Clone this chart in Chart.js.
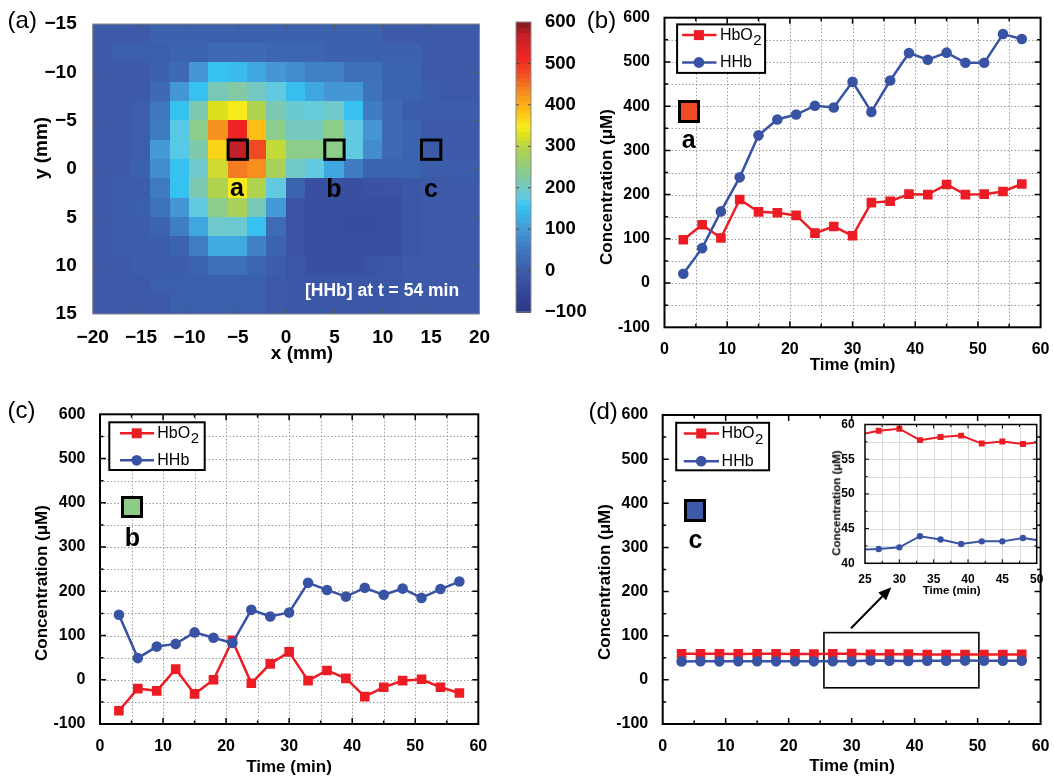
<!DOCTYPE html>
<html><head><meta charset="utf-8">
<script src="https://cdn.jsdelivr.net/npm/chart.js@4.4.0/dist/chart.umd.min.js"></script>
<style>
html,body{margin:0;padding:0;background:#fff;}
body{width:1054px;height:778px;position:relative;overflow:hidden;font-family:Arial,"Liberation Sans",Helvetica,sans-serif;}
canvas{position:absolute;}
.t{position:absolute;line-height:1;white-space:nowrap;color:#000;}
.c{transform:translateX(-50%);}
.r{transform:translate(-50%,-50%) rotate(-90deg);}
.b{font-weight:bold;}
.sq{position:absolute;box-sizing:border-box;border:3px solid #000;}
</style></head><body>
<canvas id="cA" width="540" height="360" style="left:0;top:0"></canvas>
<canvas id="cBar" width="100" height="360" style="left:500px;top:0"></canvas>
<canvas id="cB" width="514" height="390" style="left:540px;top:0"></canvas>
<canvas id="cC" width="540" height="388" style="left:0;top:390px"></canvas>
<canvas id="cD" width="514" height="388" style="left:540px;top:390px"></canvas>
<canvas id="cIn" width="230" height="190" style="left:820px;top:415px"></canvas>

<div class="t" style="left:7.6px;top:8.1px;font-size:24px">(a)</div>
<div class="t" style="left:586.8px;top:8.4px;font-size:24px">(b)</div>
<div class="t" style="left:7.6px;top:397.6px;font-size:24px">(c)</div>
<div class="t" style="left:588.5px;top:399.3px;font-size:24px">(d)</div>

<div class="t b c" style="left:237px;top:175.4px;font-size:25px">a</div>
<div class="t b c" style="left:334px;top:176px;font-size:25px">b</div>
<div class="t b c" style="left:431px;top:176px;font-size:25px">c</div>
<div class="t b" style="left:305px;top:281.7px;font-size:17.5px;color:#fff">[HHb] at t = 54 min</div>
<div class="t b c" style="left:302px;top:342.8px;font-size:19px">x (mm)</div>
<div class="t b r" style="left:40px;top:148.3px;font-size:19px">y (mm)</div>

<div class="sq" style="left:677.8px;top:100.3px;width:22.4px;height:22.4px;background:#ee4a24"></div>
<div class="t b c" style="left:688.8px;top:126.6px;font-size:25px">a</div>
<div class="sq" style="left:120.7px;top:496px;width:22.2px;height:22.2px;background:#8ccc88"></div>
<div class="t b c" style="left:132.5px;top:524.7px;font-size:25px">b</div>
<div class="sq" style="left:683.8px;top:499.4px;width:22.5px;height:22.2px;background:#3c5aa8"></div>
<div class="t b c" style="left:695.4px;top:527px;font-size:25px">c</div>

<div class="t b r" style="left:605.5px;top:186.7px;font-size:17px">Concentration (μM)</div>
<div class="t b r" style="left:41.2px;top:582.5px;font-size:17px">Concentration (μM)</div>
<div class="t b r" style="left:603.5px;top:582px;font-size:17px">Concentration (μM)</div>
<div class="t b c" style="left:852.5px;top:356px;font-size:17px">Time (min)</div>
<div class="t b c" style="left:289px;top:757.5px;font-size:17px">Time (min)</div>
<div class="t b c" style="left:852px;top:757px;font-size:17px">Time (min)</div>
<div class="t b c" style="left:951.7px;top:584.7px;font-size:11.5px">Time (min)</div>
<div class="t b r" style="left:836.7px;top:503px;font-size:11.5px">Concentration (μM)</div>

<script>
// ---------------- data ----------------
const times = [3,6,9,12,15,18,21,24,27,30,33,36,39,42,45,48,51,54,57];
const bHbO2 = [98,132,102,189,161,159,153,113,128,107,182,185,201,200,223,200,201,207,224];
const bHHb  = [21,79,162,239,334,370,381,401,397,455,387,458,520,505,521,498,498,563,552];
const cHbO2 = [-70,-20,-25,24,-32,0,89,-8,36,63,-2,21,3,-38,-17,-2,1,-17,-30];
const cHHb  = [147,49,75,81,107,95,83,158,143,152,219,203,188,208,192,206,185,205,222];
const dHbO2 = [59.0,58.9,59.1,58.8,59.0,58.9,58.8,58.5,59.1,59.4,57.75,58.2,58.4,57.25,57.55,57.2,57.5,57.5,57.6];
const dHHb  = [41.8,42.0,41.9,42.1,42.0,41.9,42.0,41.97,42.06,42.3,43.9,43.44,42.78,43.16,43.16,43.64,43.2,43.2,43.3];

const mapX = [-19,-17,-15,-13,-11,-9,-7,-5,-3,-1,1,3,5,7,9,11,13,15,17,19];
const mapY = [-14,-12,-10,-8,-6,-4,-2,0,2,4,6,8,10,12,14];
const mapHHb = [
 [0,0,0,12,12,12,12,12,12,12,12,12,12,12,12,0,0,0,0,0],
 [0,8,8,8,15,15,28,28,28,20,20,20,12,12,12,12,12,0,0,0],
 [0,0,0,12,28,100,155,148,120,100,85,68,68,42,42,15,15,0,0,0],
 [0,0,0,28,100,155,210,225,205,180,150,120,100,100,48,15,15,5,0,0],
 [0,0,8,55,155,215,330,350,295,215,190,185,195,155,62,28,5,5,5,5],
 [0,0,8,60,175,245,430,520,390,245,205,205,245,180,100,28,15,0,0,0],
 [0,0,8,105,175,220,370,575,480,310,245,245,245,180,85,28,15,0,0,0],
 [0,0,12,85,155,195,318,445,432,285,200,180,120,60,15,15,15,5,5,5],
 [0,5,5,60,155,215,295,350,295,180,15,-25,-25,-25,-20,-15,-5,0,0,0],
 [0,5,8,45,100,180,245,285,210,105,-15,-30,-30,-30,-30,-30,-10,0,0,0],
 [0,3,5,15,65,120,195,192,155,30,-15,-30,-30,-32,-32,-30,-10,0,0,0],
 [0,3,3,5,15,65,125,125,70,15,-15,-30,-30,-30,-30,-25,-10,0,0,0],
 [0,0,5,5,5,15,42,42,20,5,-10,-25,-25,-25,-15,-10,0,0,0,0],
 [0,0,0,8,8,8,8,8,8,0,-8,-10,-10,-10,-10,-8,0,0,0,0],
 [0,0,0,0,8,8,8,8,8,0,-5,-5,-5,-5,-5,-5,0,0,0,0]
];
const boxX = [-5,5,15];
const boxY = [-2,-2,-2];
const zoomBoxX = [25.6,50.2];
const zoomBoxY = [-18,107];
const arrowX = [29.9,36.3];
const arrowY = [117,210];

// ---------------- styles ----------------
const FF = 'Arial, "Liberation Sans", Helvetica, sans-serif';
const RED = '#ed1c24', BLUE = '#3953a4';
const cmapStops = [-100,-30,0,12,28,50,100,150,160,180,210,245,295,330,350,390,430,480,520,575,600];
const cmapCols = [[43,54,135],[56,78,158],[60,90,168],[60,98,173],[61,106,179],[61,116,187],[69,150,212],[56,189,239],[54,197,243],[98,202,224],[120,200,184],[140,205,138],[176,210,78],[221,224,30],[247,235,27],[253,189,22],[246,146,30],[239,74,36],[238,36,36],[192,32,38],[128,26,30]];
function jet(v){
  const s=cmapStops,c=cmapCols; let col=c[c.length-1];
  if (v<=s[0]) col=c[0];
  else for (let i=1;i<s.length;i++){ if (v<=s[i]){ const f=(v-s[i-1])/(s[i]-s[i-1]); col=c[i-1].map((a,k)=>a+(c[i][k]-a)*f); break; } }
  return 'rgb('+col.map(Math.round).join(',')+')';
}
Chart.defaults.font.family = FF;
Chart.defaults.color = '#000';
const minus = v => (v<0 ? '\u2212'+Math.abs(v) : ''+v);

// ---------------- plugins ----------------
const framePlugin = {
  id:'frame',
  beforeDatasetsDraw(chart,a,o){
    const ctx=chart.ctx, ca=chart.chartArea;
    if (o.bg){ ctx.save(); ctx.fillStyle=o.bg; ctx.fillRect(ca.left,ca.top,ca.right-ca.left,ca.bottom-ca.top); ctx.restore(); }
    if (!o.grid) return;
    ctx.save(); ctx.strokeStyle=o.gridColor; ctx.lineWidth=1; ctx.setLineDash(o.dash||[]);
    ['x','y'].forEach(id=>{
      const s=chart.scales[id]; if(!s) return;
      s.ticks.forEach(t=>{
        const p=Math.round(s.getPixelForValue(t.value))+0.5;
        ctx.beginPath();
        if (id==='x'){ if(p<ca.left+2||p>ca.right-2) return; ctx.moveTo(p,ca.top); ctx.lineTo(p,ca.bottom); }
        else { if(p<ca.top+2||p>ca.bottom-2) return; ctx.moveTo(ca.left,p); ctx.lineTo(ca.right,p); }
        ctx.stroke();
      });
    });
    ctx.restore();
  },
  afterDatasetsDraw(chart,a,o){
    const ctx=chart.ctx, ca=chart.chartArea;
    ctx.save(); ctx.setLineDash([]);
    ctx.strokeStyle=o.tickColor||o.color; ctx.lineWidth=o.tickWidth||1.5;
    (o.axes||['x','y']).forEach(id=>{
      const s=chart.scales[id]; if(!s) return;
      s.ticks.forEach(t=>{
        const len=(t.label!==''&&t.label!==undefined)?o.major:o.minor;
        if(!len) return;
        const p=s.getPixelForValue(t.value);
        ctx.beginPath();
        if (id==='x'){ if(p<ca.left+1||p>ca.right-1) return; ctx.moveTo(p,ca.bottom); ctx.lineTo(p,ca.bottom-len); ctx.moveTo(p,ca.top); ctx.lineTo(p,ca.top+len); }
        else { if(p<ca.top+1||p>ca.bottom-1) return; ctx.moveTo(ca.left,p); ctx.lineTo(ca.left+len,p); ctx.moveTo(ca.right,p); ctx.lineTo(ca.right-len,p); }
        ctx.stroke();
      });
    });
    ctx.strokeStyle=o.color; ctx.lineWidth=o.lw;
    ctx.strokeRect(ca.left,ca.top,ca.right-ca.left,ca.bottom-ca.top);
    ctx.restore();
  }
};

const legendPlugin = {
  id:'hbLegend',
  afterDraw(chart,a,o){
    const ctx=chart.ctx, ca=chart.chartArea;
    const x0=ca.left+o.dx, y0=ca.top+o.dy;
    ctx.save();
    ctx.fillStyle='#fff'; ctx.fillRect(x0,y0,o.w,o.h);
    ctx.lineWidth=2; ctx.strokeStyle='#000'; ctx.strokeRect(x0,y0,o.w,o.h);
    const rows=[{c:RED,s:'rect',t:'HbO',sub:'2'},{c:BLUE,s:'circle',t:'HHb'}];
    rows.forEach((r,i)=>{
      const yy=y0+o.rows[i];
      ctx.strokeStyle=r.c; ctx.lineWidth=2.5;
      ctx.beginPath(); ctx.moveTo(x0+o.l0,yy); ctx.lineTo(x0+o.l1,yy); ctx.stroke();
      ctx.fillStyle=r.c;
      if (r.s==='rect') ctx.fillRect(x0+o.m-5,yy-5,10,10);
      else { ctx.beginPath(); ctx.arc(x0+o.m,yy,5.4,0,Math.PI*2); ctx.fill(); }
      ctx.fillStyle='#000'; ctx.textAlign='left'; ctx.textBaseline='middle';
      ctx.font='16px '+FF; ctx.fillText(r.t,x0+o.tx,yy);
      if (r.sub){ const w=ctx.measureText(r.t).width; ctx.font='15px '+FF; ctx.fillText(r.sub,x0+o.tx+w+0.5,yy+6); }
    });
    ctx.restore();
  }
};

const heatPlugin = {
  id:'heat',
  beforeDatasetsDraw(chart){
    const ctx=chart.ctx, xs=chart.scales.x, ys=chart.scales.y, ca=chart.chartArea;
    ctx.save(); ctx.beginPath(); ctx.rect(ca.left,ca.top,ca.right-ca.left,ca.bottom-ca.top); ctx.clip();
    chart.data.datasets[0].data.forEach(c=>{
      const x0=xs.getPixelForValue(c.x-1), x1=xs.getPixelForValue(c.x+1);
      const y0=ys.getPixelForValue(c.y-1), y1=ys.getPixelForValue(c.y+1);
      ctx.fillStyle=jet(c.v);
      const L=Math.floor(Math.min(x0,x1)), T=Math.floor(Math.min(y0,y1));
      ctx.fillRect(L,T,Math.ceil(Math.max(x0,x1))-L+1,Math.ceil(Math.max(y0,y1))-T+1);
    });
    ctx.restore();
  },
  afterDatasetsDraw(chart){
    const ctx=chart.ctx, xs=chart.scales.x, ys=chart.scales.y;
    ctx.save(); ctx.strokeStyle='#000'; ctx.lineWidth=3;
    chart.data.datasets[1].data.forEach(b=>{
      const x0=xs.getPixelForValue(b.x-1), x1=xs.getPixelForValue(b.x+1);
      const y0=ys.getPixelForValue(b.y-1), y1=ys.getPixelForValue(b.y+1);
      ctx.strokeRect(Math.min(x0,x1),Math.min(y0,y1),Math.abs(x1-x0),Math.abs(y1-y0));
    });
    ctx.restore();
  }
};

const cbarPlugin = {
  id:'cbar',
  beforeDatasetsDraw(chart){
    const ctx=chart.ctx, ys=chart.scales.y, ca=chart.chartArea;
    const n=64, lo=ys.min, hi=ys.max, step=(hi-lo)/n;
    ctx.save();
    for (let k=0;k<n;k++){
      const v0=lo+k*step, v1=v0+step;
      const p0=ys.getPixelForValue(v0), p1=ys.getPixelForValue(v1);
      ctx.fillStyle=jet((v0+v1)/2);
      ctx.fillRect(ca.left,Math.floor(p1),ca.right-ca.left,Math.ceil(p0)-Math.floor(p1)+1);
    }
    ctx.restore();
  }
};

const zoomPlugin = {
  id:'zoomBox',
  beforeDatasetsDraw(chart){
    const ctx=chart.ctx, xs=chart.scales.x, ys=chart.scales.y;
    const x0=xs.getPixelForValue(zoomBoxX[0]), x1=xs.getPixelForValue(zoomBoxX[1]);
    const y0=ys.getPixelForValue(zoomBoxY[1]), y1=ys.getPixelForValue(zoomBoxY[0]);
    ctx.save(); ctx.strokeStyle='#000'; ctx.lineWidth=1.6; ctx.strokeRect(x0,y0,x1-x0,y1-y0); ctx.restore();
  },
  afterDatasetsDraw(chart){
    const ctx=chart.ctx, xs=chart.scales.x, ys=chart.scales.y;
    const ax0=xs.getPixelForValue(arrowX[0]), ay0=ys.getPixelForValue(arrowY[0]);
    const ax1=xs.getPixelForValue(arrowX[1]), ay1=ys.getPixelForValue(arrowY[1]);
    const ang=Math.atan2(ay1-ay0,ax1-ax0), hl=13, hw=5.5;
    const bx=ax1-hl*Math.cos(ang), by=ay1-hl*Math.sin(ang);
    ctx.save(); ctx.strokeStyle='#000'; ctx.fillStyle='#000'; ctx.lineWidth=2;
    ctx.beginPath(); ctx.moveTo(ax0,ay0); ctx.lineTo(bx,by); ctx.stroke();
    ctx.beginPath(); ctx.moveTo(ax1,ay1);
    ctx.lineTo(bx+hw*Math.sin(ang),by-hw*Math.cos(ang));
    ctx.lineTo(bx-hw*Math.sin(ang),by+hw*Math.cos(ang));
    ctx.closePath(); ctx.fill(); ctx.restore();
  }
};

// ---------------- heatmap ----------------
const cells=[]; mapY.forEach((y,j)=>mapX.forEach((x,i)=>cells.push({x:x,y:y,v:mapHHb[j][i]})));
const boxes=boxX.map((x,i)=>({x:x,y:boxY[i]}));
const heatTickFont={size:19,weight:'bold'};
new Chart(document.getElementById('cA'),{
  type:'scatter',
  data:{datasets:[{data:cells,pointRadius:0},{data:boxes,pointRadius:0}]},
  options:{responsive:false,animation:false,events:[],
    layout:{padding:{left:0,right:60.5,top:24,bottom:0}},
    plugins:{legend:{display:false},tooltip:{enabled:false},
      frame:{lw:1,color:'#8a8a8a',tickColor:'#555',tickWidth:1,major:5,minor:0,grid:false}},
    scales:{
      x:{type:'linear',min:-20,max:20,afterFit:s=>{s.height=46;},grid:{display:false},border:{display:false},
         ticks:{stepSize:5,autoSkip:false,maxRotation:0,padding:4,font:heatTickFont,callback:minus}},
      y:{type:'linear',min:-15,max:15,reverse:true,afterFit:s=>{s.width=92.7;},grid:{display:false},border:{display:false},
         ticks:{stepSize:5,autoSkip:false,padding:8,font:heatTickFont,callback:minus}}
    }},
  plugins:[heatPlugin,framePlugin]
});

// colour bar
new Chart(document.getElementById('cBar'),{
  type:'scatter',
  data:{datasets:[{data:[],pointRadius:0}]},
  options:{responsive:false,animation:false,events:[],
    layout:{padding:{left:16,right:0,top:22,bottom:48}},
    plugins:{legend:{display:false},tooltip:{enabled:false},
      frame:{lw:1,color:'#8a8a8a',tickColor:'#444',tickWidth:1,major:3,minor:0,grid:false,axes:['y']}},
    scales:{
      x:{type:'linear',min:0,max:1,display:false},
      y:{type:'linear',position:'right',min:-100,max:600,afterFit:s=>{s.width=69;},grid:{display:false},border:{display:false},
         ticks:{stepSize:100,autoSkip:false,padding:6,font:{size:18.5,weight:'bold'},callback:minus}}
    }},
  plugins:[cbarPlugin,framePlugin]
});

// ---------------- line charts ----------------
function series(vals){ return times.map((t,i)=>({x:t,y:vals[i]})); }
function lineChart(id,hbo2,hhb,cfg){
  const tf={size:cfg.fs,weight:'bold'};
  return new Chart(document.getElementById(id),{
    type:'line',
    data:{datasets:[
      {label:'HHb',data:series(hhb),borderColor:BLUE,backgroundColor:BLUE,borderWidth:cfg.lw,tension:0,
       pointStyle:'circle',pointRadius:cfg.cr,pointBackgroundColor:BLUE,pointBorderColor:BLUE,pointBorderWidth:0,order:0},
      {label:'HbO2',data:series(hbo2),borderColor:RED,backgroundColor:RED,borderWidth:cfg.lw,tension:0,
       pointStyle:'rect',pointRadius:cfg.sr,pointBackgroundColor:RED,pointBorderColor:RED,pointBorderWidth:0,order:1}
    ]},
    options:{responsive:false,animation:false,events:[],
      layout:{padding:cfg.pad},
      plugins:{legend:{display:false},tooltip:{enabled:false},frame:cfg.frame,hbLegend:cfg.legend||false},
      scales:{
        x:{type:'linear',min:cfg.xr[0],max:cfg.xr[1],afterFit:s=>{s.height=cfg.xh;},grid:{display:false},border:{display:false},
           ticks:{stepSize:cfg.xs[0],autoSkip:false,maxRotation:0,padding:cfg.xp,font:tf,
                  callback:v=>Math.abs(v%cfg.xs[1])<1e-6?''+v:''}},
        y:{type:'linear',min:cfg.yr[0],max:cfg.yr[1],afterFit:s=>{s.width=cfg.yw;},grid:{display:false},border:{display:false},
           ticks:{stepSize:cfg.ys[0],autoSkip:false,padding:cfg.yp,font:tf,
                  callback:v=>Math.abs(v%cfg.ys[1])<1e-6?''+v:''}}
      }},
    plugins:[framePlugin,legendPlugin].concat(cfg.extra||[])
  });
}
const mainFrameGrid={lw:2,color:'#000',tickWidth:1.5,major:6,minor:3.5,grid:true,gridColor:'#9c9c9c',dash:[1.5,2]};
const base={fs:16,lw:2.5,cr:5.3,sr:6.8,xr:[0,60],yr:[-100,600],xs:[5,10],ys:[50,100],xp:4.5,yp:6.5};

lineChart('cB',bHbO2,bHHb,Object.assign({},base,{
  pad:{left:0,right:12,top:17.7,bottom:0},yw:124.5,xh:62.7,frame:mainFrameGrid,
  legend:{dx:12.6,dy:6.7,w:88,h:48.5,rows:[10.7,38.1],l0:5,l1:39.4,m:21.8,tx:42.8}}));

lineChart('cC',cHbO2,cHHb,Object.assign({},base,{
  pad:{left:0,right:61.7,top:24.3,bottom:0},yw:100,xh:54,frame:mainFrameGrid,
  legend:{dx:9.3,dy:8,w:95.4,h:47.7,rows:[11,38],l0:10.7,l1:44.7,m:27.4,tx:48}}));

lineChart('cD',dHbO2,dHHb,Object.assign({},base,{
  pad:{left:0,right:12.3,top:25,bottom:0},yw:122.7,xh:54,
  frame:{lw:2,color:'#000',tickWidth:1.5,major:6,minor:3.5,grid:false},
  legend:{dx:13.5,dy:7.8,w:92.9,h:47.5,rows:[10.7,38.4],l0:7.6,l1:42.8,m:25,tx:45.4},
  extra:[zoomPlugin]}));

lineChart('cIn',dHbO2,dHHb,Object.assign({},base,{
  fs:12,lw:2,cr:3.2,sr:4.2,xr:[25,50],yr:[40,60],xs:[2.5,5],ys:[2.5,5],xp:1.2,yp:2.3,
  pad:{left:0,right:13.3,top:9,bottom:0},yw:45,xh:41.7,
  frame:{lw:1.5,color:'#000',tickWidth:1,major:4,minor:2.5,grid:true,gridColor:'#dadada',dash:[],bg:'#fff'},
  legend:false}));
</script>
</body></html>
